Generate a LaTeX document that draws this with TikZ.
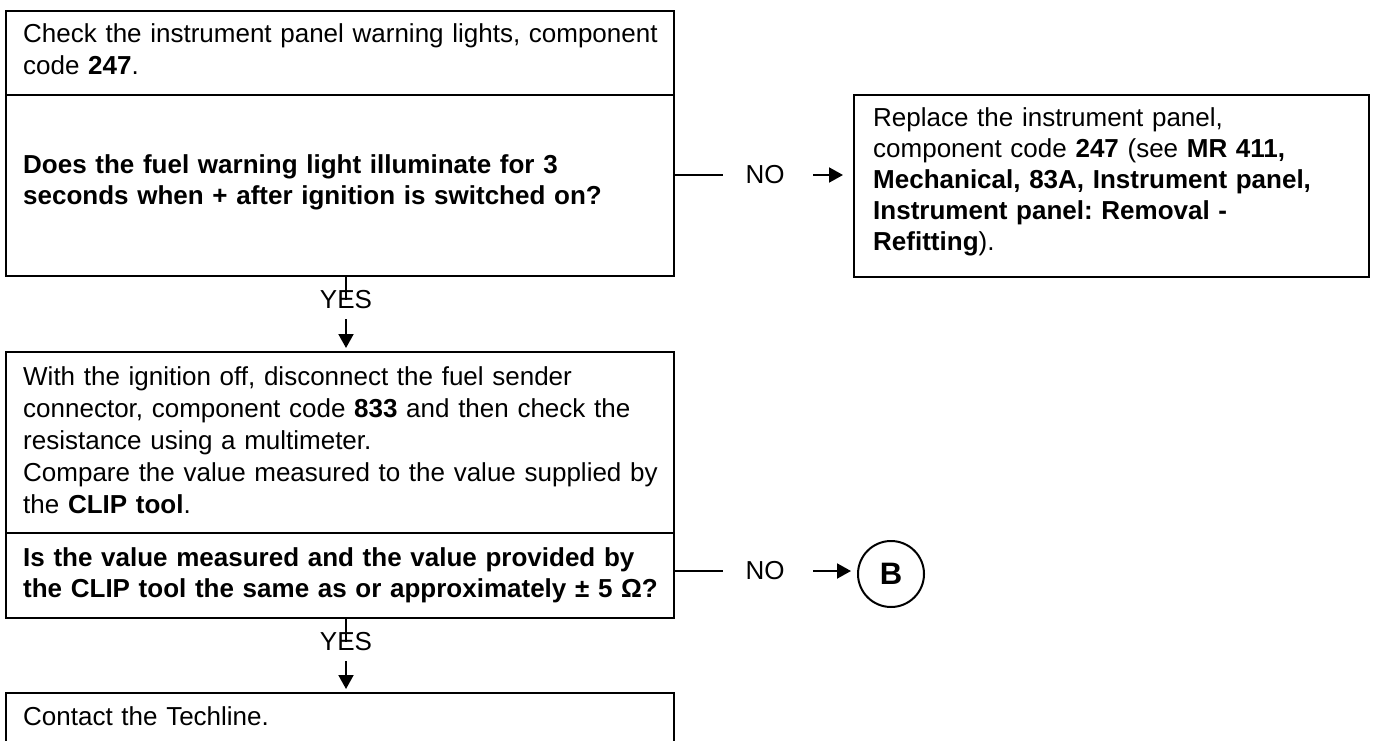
\documentclass[tikz,border=0pt]{standalone}
\usepackage{fontspec}
\setmainfont{Liberation Sans}
\usetikzlibrary{arrows.meta}
\frenchspacing
\begin{document}
\begin{tikzpicture}[x=1pt,y=-1pt,
  box/.style={draw,line width=2.8pt,inner sep=0pt,outer sep=0pt},
  txt/.style={anchor=base west,inner sep=0pt,align=left,text width=645pt,font=\fontsize{26}{32}\selectfont},
  txtb/.style={txt,font=\bfseries\fontsize{26}{31}\selectfont},
  lbl/.style={inner sep=0pt,font=\fontsize{26}{30}\selectfont},
  conn/.style={line width=2pt},
  arr/.style={conn,-{Triangle[length=14pt,width=15pt]}}
]
\clip (0,0) rectangle (1373,741);
% boxes
\node[box,minimum width=668pt,minimum height=84pt] (q1a) at (340,53) {};
\node[box,minimum width=668pt,minimum height=181pt] (q1b) at (340,185.5) {};
\node[box,minimum width=515pt,minimum height=182pt] (r1) at (1111.5,186) {};
\node[box,minimum width=668pt,minimum height=181pt] (q2a) at (340,442.5) {};
\node[box,minimum width=668pt,minimum height=85pt] (q2b) at (340,575.5) {};
\node[box,minimum width=668pt,minimum height=100pt] (q3) at (340,743) {};
\node[draw,circle,line width=2pt,minimum size=66pt,inner sep=0pt,font=\bfseries\fontsize{31}{31}\selectfont] (B) at (891,574) {B};
% texts
\node[txt] (t1a) at (23,43) {Check the instrument panel warning lights, component\\code \textbf{247}.};
\node[txtb] (t1b) at (23,173) {Does the fuel warning light illuminate for 3\\seconds when + after ignition is switched on?};
\node[txt,text width=495pt,font=\fontsize{26}{31}\selectfont] (tr1) at (873,127) {Replace the instrument panel,\\component code \textbf{247} (see \textbf{MR 411,}\\\textbf{Mechanical, 83A, Instrument panel,}\\\textbf{Instrument panel: Removal -}\\\textbf{Refitting}).};
\node[txt] (t2a) at (23,385) {With the ignition off, disconnect the fuel sender\\connector, component code \textbf{833} and then check the\\resistance using a multimeter.\\Compare the value measured to the value supplied by\\the \textbf{CLIP tool}.};
\node[txtb,font=\bfseries\fontsize{26}{31}\selectfont] (t2b) at (23,566) {Is the value measured and the value provided by\\the CLIP tool the same as or approximately ± 5 Ω?};
\node[txt] (t3) at (23,725) {Contact the Techline.};
% labels
\node[lbl,anchor=base] (yes1) at (346,308) {YES};
\node[lbl,anchor=base] (yes2) at (346,650) {YES};
\node[lbl] (no1) at (765,175) {NO};
\node[lbl] (no2) at (765,571) {NO};
% connectors
\draw[conn] (q1b.south -| yes1) -- ++(0,24);
\draw[arr,shorten >=4pt] ([yshift=-11pt]yes1.base) -- (q2a.north -| yes1);
\draw[conn] (q2b.south -| yes2) -- ++(0,24);
\draw[arr,shorten >=4pt] ([yshift=-11pt]yes2.base) -- (q3.north -| yes2);
\draw[conn] (q1b.east |- no1) -- ++(49,0);
\draw[arr,shorten >=11pt] ([xshift=48pt]no1.center) -- (r1.west |- no1);
\draw[conn] (q2b.east |- no2) -- ++(49,0);
\draw[arr,shorten >=6pt] ([xshift=48pt]no2.center) -- (no2 -| B.west);
\end{tikzpicture}
\end{document}
